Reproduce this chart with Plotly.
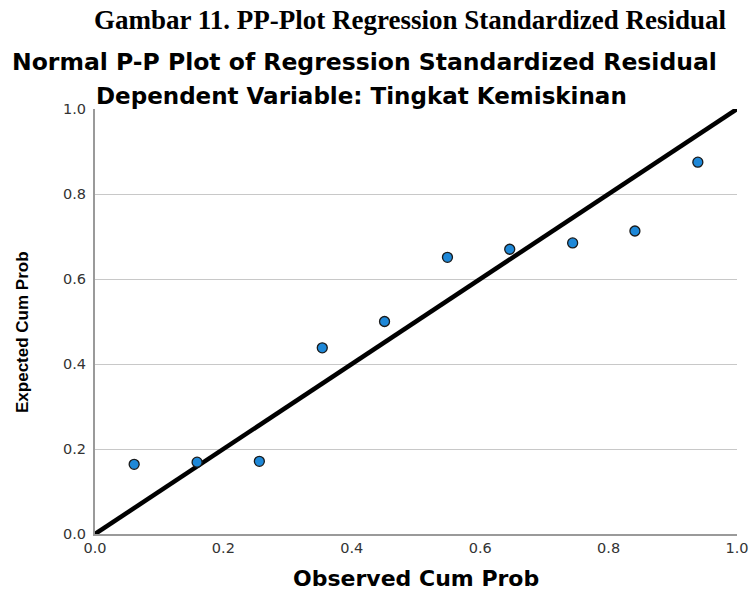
import plotly.graph_objects as go

observed = [0.061, 0.159, 0.256, 0.354, 0.451, 0.549, 0.646, 0.744, 0.841, 0.939]
expected = [0.164, 0.169, 0.171, 0.438, 0.500, 0.651, 0.670, 0.685, 0.713, 0.875]
diag = [0.0, 1.0]
ticks = [0.0, 0.2, 0.4, 0.6, 0.8, 1.0]
tick_text = ["0.0", "0.2", "0.4", "0.6", "0.8", "1.0"]

W, H = 750, 593
L, R, T, B = 95, 13, 109, 59
plot_w = W - L - R
plot_h = H - T - B


def px(xs):
    return (xs - L) / plot_w


def py(ys):
    return 1 + (T - ys) / plot_h


fig = go.Figure()
fig.add_trace(go.Scatter(x=diag, y=diag, mode="lines",
                         line=dict(color="black", width=4.5), showlegend=False,
                         hoverinfo="skip"))
fig.add_trace(go.Scatter(x=observed, y=expected, mode="markers",
                         marker=dict(color="#1E88D8", size=10,
                                     line=dict(color="#1a1a1a", width=1.3)),
                         showlegend=False))

sans = "DejaVu Sans, Liberation Sans, Arial, sans-serif"
fig.update_layout(
    width=W, height=H,
    margin=dict(l=L, r=R, t=T, b=B),
    paper_bgcolor="white", plot_bgcolor="white",
    font=dict(family=sans, color="#222"),
    annotations=[
        dict(text="<b>Gambar 11. PP-Plot Regression Standardized Residual</b>",
             x=px(410), y=py(20), xref="paper", yref="paper", showarrow=False,
             font=dict(family="Liberation Serif, Times New Roman, serif", size=27, color="black"),
             xanchor="center", yanchor="middle", borderpad=0),
        dict(text="<b>Normal P-P Plot of Regression Standardized Residual</b>",
             x=px(364), y=py(62), xref="paper", yref="paper", showarrow=False,
             font=dict(family=sans, size=23.5, color="black"),
             xanchor="center", yanchor="middle"),
        dict(text="<b>Dependent Variable: Tingkat Kemiskinan</b>",
             x=px(361), y=py(96), xref="paper", yref="paper", showarrow=False,
             font=dict(family=sans, size=23, color="black"),
             xanchor="center", yanchor="middle"),
        dict(text="<b>Expected Cum Prob</b>", textangle=-90,
             x=px(22), y=py(332), xref="paper", yref="paper", showarrow=False,
             font=dict(family="Liberation Sans Narrow, Arial Narrow, Liberation Sans, sans-serif",
                       size=17, color="black"),
             xanchor="center", yanchor="middle"),
        dict(text="<b>Observed Cum Prob</b>",
             x=px(416), y=py(578), xref="paper", yref="paper", showarrow=False,
             font=dict(family=sans, size=22, color="black"),
             xanchor="center", yanchor="middle", borderpad=0),
    ],
)

fig.update_xaxes(range=[0, 1], tickvals=ticks, ticktext=tick_text,
                 showgrid=False, zeroline=False, automargin=False,
                 showline=True, linecolor="#9a9a9a", linewidth=2,
                 ticks="", tickfont=dict(size=14.5, color="#333"))
fig.update_yaxes(range=[0, 1], tickvals=ticks, ticktext=tick_text,
                 showgrid=True, gridcolor="#c8c8c8", gridwidth=1, zeroline=False,
                 automargin=False, ticklabelstandoff=4,
                 showline=True, linecolor="#9a9a9a", linewidth=2,
                 ticks="", tickfont=dict(size=14.5, color="#333"))

# remove the browser's default 8px body margin so the figure sits at (0, 0)
fig.write_html("out.html",
               config={"displayModeBar": False},
               post_script="document.body.style.margin='0';document.body.style.overflow='hidden';")
